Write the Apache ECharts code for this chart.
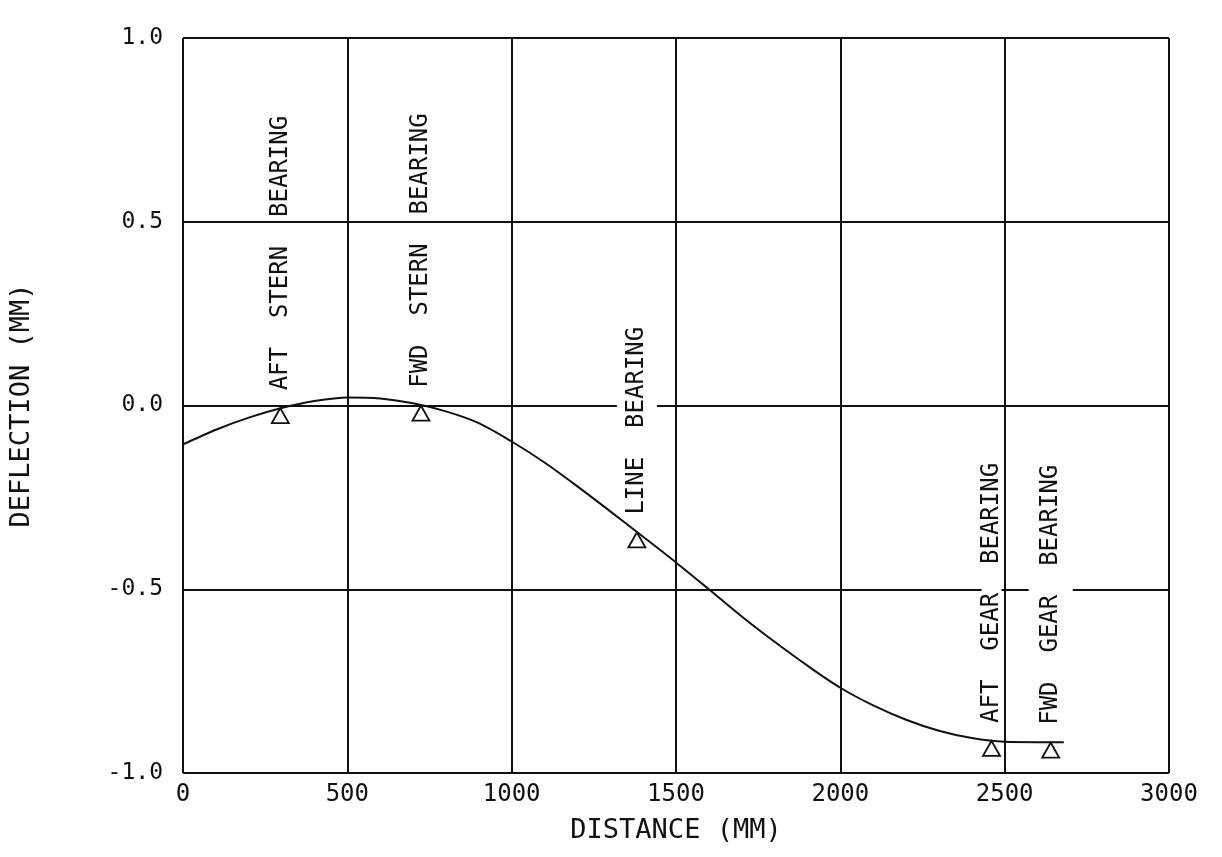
<!DOCTYPE html>
<html>
<head>
<meta charset="utf-8">
<title>Shaft Deflection</title>
<script src="https://cdn.jsdelivr.net/npm/echarts@6.0.0/dist/echarts.min.js"></script>
<style>
  html, body { margin: 0; padding: 0; background: #ffffff; }
  #chart { width: 1222px; height: 857px; }
</style>
</head>
<body>
<div id="chart"></div>
<script>
// Shaft deflection along the shaft line (mm)
const distance   = [0, 100, 200, 300, 400, 500, 600, 700, 800, 900, 1000, 1100, 1200, 1300, 1400, 1500, 1600, 1700, 1800, 1900, 2000, 2100, 2200, 2300, 2400, 2500, 2600, 2680];
const deflection = [-0.106, -0.066, -0.033, -0.007, 0.012, 0.022, 0.019, 0.006, -0.016, -0.048, -0.098, -0.155, -0.220, -0.288, -0.357, -0.427, -0.500, -0.574, -0.643, -0.708, -0.768, -0.816, -0.855, -0.885, -0.905, -0.915, -0.916, -0.916];

// Bearing stations
const bearingNames = ['AFT  STERN  BEARING', 'FWD  STERN  BEARING', 'LINE  BEARING', 'AFT  GEAR  BEARING', 'FWD  GEAR  BEARING'];
const bearingPos   = [296, 724, 1381, 2460, 2640];
const bearingDefl  = [-0.006, 0.001, -0.344, -0.911, -0.916];
// white margin each side of a vertical label where it crosses a grid line
const bearingClear = [0, 0, 12, 2, 14];

// Axis ranges
const xRange = { min: 0, max: 3000, step: 500 };
const yRange = { min: -1.0, max: 1.0, step: 0.5 };

const FONT = "'DejaVu Sans Mono', 'Liberation Mono', monospace";
const INK = '#111111';

const curve = distance.map((d, i) => [d, deflection[i]]);
const bearings = bearingNames.map((name, i) => {
  const item = { name: name, value: [bearingPos[i], bearingDefl[i]] };
  const c = bearingClear[i];
  if (c) {
    item.label = { backgroundColor: '#ffffff', padding: [c, 0, c, 0] };
  }
  return item;
});

const chart = echarts.init(document.getElementById('chart'));
chart.setOption({
  backgroundColor: '#ffffff',
  animation: false,
  grid: { left: 183, right: 53, top: 38, bottom: 84 },
  xAxis: {
    type: 'value',
    min: xRange.min, max: xRange.max, interval: xRange.step,
    name: 'DISTANCE (MM)',
    nameLocation: 'middle',
    nameGap: 44,
    nameTextStyle: { fontFamily: FONT, fontSize: 27, color: INK },
    axisLine: { show: false },
    axisTick: { show: false },
    axisLabel: {
      margin: 10, fontFamily: FONT, fontSize: 24, color: INK,
      formatter: v => String(v)
    },
    splitLine: { show: true, lineStyle: { color: INK, width: 2 } }
  },
  yAxis: {
    type: 'value',
    min: yRange.min, max: yRange.max, interval: yRange.step,
    name: 'DEFLECTION (MM)',
    nameLocation: 'middle',
    nameGap: 148,
    nameRotate: 90,
    nameTextStyle: { fontFamily: FONT, fontSize: 27, color: INK },
    axisLine: { show: false },
    axisTick: { show: false },
    axisLabel: {
      margin: 20, fontFamily: FONT, fontSize: 23, color: INK,
      formatter: v => v.toFixed(1)
    },
    splitLine: { show: true, lineStyle: { color: INK, width: 2 } }
  },
  series: [
    {
      type: 'scatter',
      z: 3,
      data: bearings,
      symbol: 'triangle',
      symbolSize: [17, 15],
      symbolOffset: [0, 8],
      itemStyle: { color: '#ffffff', borderColor: INK, borderWidth: 1.8, opacity: 1 },
      label: {
        show: true,
        formatter: p => p.name,
        position: 'top',
        distance: 17,
        rotate: 90,
        align: 'left',
        verticalAlign: 'middle',
        lineHeight: 16,
        fontFamily: FONT,
        fontSize: 24,
        color: INK
      },
      emphasis: { disabled: true }
    },
    {
      type: 'line',
      z: 5,
      data: curve,
      smooth: 0.3,
      showSymbol: false,
      lineStyle: { color: INK, width: 2 },
      emphasis: { disabled: true }
    }
  ]
});
</script>
</body>
</html>
